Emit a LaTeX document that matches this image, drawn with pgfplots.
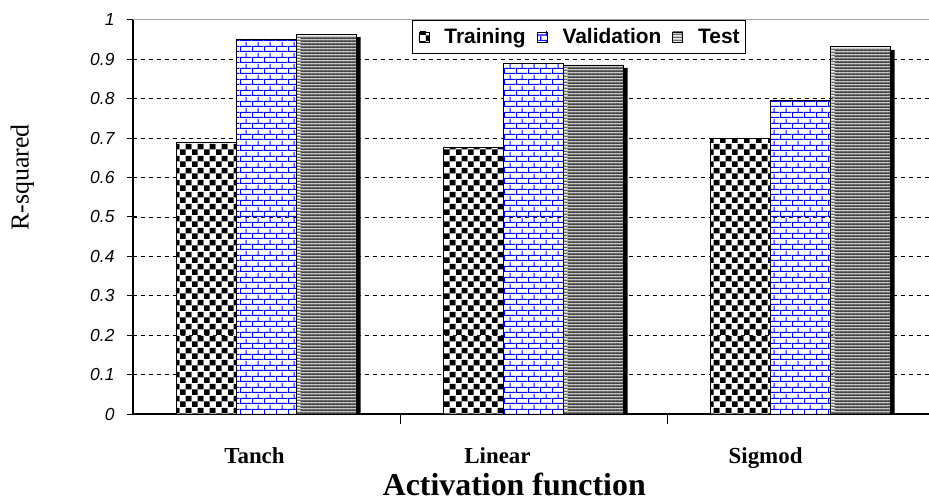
\documentclass[border=0pt]{standalone}
\usepackage{fontspec}
\setmainfont{Liberation Serif}
\newfontfamily\arialfont{Liberation Sans}
\usepackage{pgfplots}
\usepackage{pgfplotstable}
\pgfplotsset{compat=1.18}
\usetikzlibrary{patterns.meta}

% fill patterns of the three series
\tikzdeclarepattern{
  name=checker, type=colored,
  bottom left={(0bp,0bp)}, top right={(12bp,12bp)}, tile size={(12bp,12bp)},
  code={
    \fill[white] (0bp,0bp) rectangle (12bp,12bp);
    \fill[black] (0bp,0bp) rectangle (6bp,6bp);
    \fill[black] (6bp,6bp) rectangle (12bp,12bp);
  }
}
\tikzdeclarepattern{
  name=bluebricks, type=colored,
  bottom left={(0bp,0bp)}, top right={(12bp,11bp)}, tile size={(12bp,11bp)},
  code={
    \fill[white] (0bp,0bp) rectangle (12bp,11bp);
    \fill[blue] (0bp,0bp) rectangle (12bp,1.3bp);
    \fill[blue] (0bp,5.5bp) rectangle (12bp,6.8bp);
    \fill[blue] (0bp,0bp) rectangle (1.3bp,5.5bp);
    \fill[blue] (6bp,5.5bp) rectangle (7.3bp,11bp);
  }
}
\tikzdeclarepattern{
  name=graystripes, type=colored,
  bottom left={(0bp,0bp)}, top right={(4bp,3bp)}, tile size={(4bp,3bp)},
  code={
    \fill[gray!45] (0bp,0bp) rectangle (4bp,3bp);
    \fill[black!80] (0bp,0bp) rectangle (4bp,0.9bp);
  }
}

\pgfplotstableread{
x  train  valid  test
0  0.689  0.952  0.964
1  0.676  0.890  0.886
2  0.700  0.797  0.932
}\rdata

\pgfplotsset{
  sqlegend/.style={legend image code/.code={
      \draw[##1, draw=black, line width=0.8bp] (0bp,-5bp) rectangle (10bp,5bp);}},
}

\begin{document}
\begin{tikzpicture}
\begin{axis}[
  scale only axis,
  width=796bp, height=394bp,
  xmin=-0.5, xmax=2.481, ymin=0, ymax=1,
  axis x line*=bottom, axis y line*=left,
  axis line style={black, line width=1.2bp},
  tick align=outside,
  xtick={0.5,1.5}, xticklabels={},
  xtick style={black, line width=1bp},
  ytick={0,0.1,0.2,0.3,0.4,0.5,0.6,0.7,0.8,0.9,1},
  yticklabels={0,0.1,0.2,0.3,0.4,0.5,0.6,0.7,0.8,0.9,1},
  ytick style={black, line width=1bp, xshift=4bp},
  major tick length=10bp,
  yticklabel style={font=\arialfont\itshape\fontsize{17.5}{17.5}\selectfont, xshift=-5bp},
  extra x ticks={-0.045,0.865,1.869},
  extra x tick labels={Tanch,Linear,Sigmod},
  extra x tick style={major tick length=0pt,
    tick label style={font=\fontsize{23}{23}\selectfont\bfseries, anchor=base, yshift=-49bp}},
  extra y ticks={0.1,0.2,0.3,0.4,0.5,0.6,0.7,0.8,0.9},
  extra y tick labels={},
  extra y tick style={grid=major, major tick length=0pt,
    major grid style={black, line width=0.9bp, dash pattern=on 4bp off 4bp}},
  xlabel={Activation function},
  xlabel style={font=\fontsize{32}{32}\selectfont\bfseries, anchor=base,
    at={(axis description cs:0.479,-0.207)}},
  ylabel={R-squared},
  ylabel style={font=\fontsize{26}{26}\selectfont, anchor=center,
    at={(axis description cs:-0.139,0.6)}},
  legend style={at={(axis description cs:0.3505,1)}, anchor=north west,
    draw=black, line width=1.2bp, fill=white,
    font=\arialfont\bfseries\fontsize{21}{21}\selectfont,
    legend columns=-1, inner xsep=6bp, inner ysep=5bp,
    nodes={inner xsep=0bp, inner ysep=3bp},
    /tikz/every odd column/.append style={column sep=15bp},
    /tikz/every even column/.append style={column sep=11bp}},
  legend cell align=left,
]
% drop shadow behind the last bar of each group
\addplot[ybar, bar width=60bp, bar shift=64bp, fill=black, draw=none,
  yshift=-3bp, forget plot] table[x=x, y=test]{\rdata};
\addplot[ybar, bar width=60bp, bar shift=-60bp, draw=black, line width=0.8bp,
  pattern=checker, sqlegend] table[x=x, y=train]{\rdata};
\addplot[ybar, bar width=60bp, bar shift=0bp, draw=black, line width=0.8bp,
  pattern=bluebricks, sqlegend] table[x=x, y=valid]{\rdata};
\addplot[ybar, bar width=60bp, bar shift=60bp, draw=black, line width=0.8bp,
  pattern=graystripes, sqlegend] table[x=x, y=test]{\rdata};
\legend{Training,Validation,Test}
\draw[black!35, line width=1bp] (rel axis cs:0,1) -- (rel axis cs:1,1);
\end{axis}
\pgfresetboundingbox
\path ([shift={(-133bp,-89bp)}]current axis.south west)
  rectangle ([shift={(0bp,20bp)}]current axis.north east);
\end{tikzpicture}
\end{document}
